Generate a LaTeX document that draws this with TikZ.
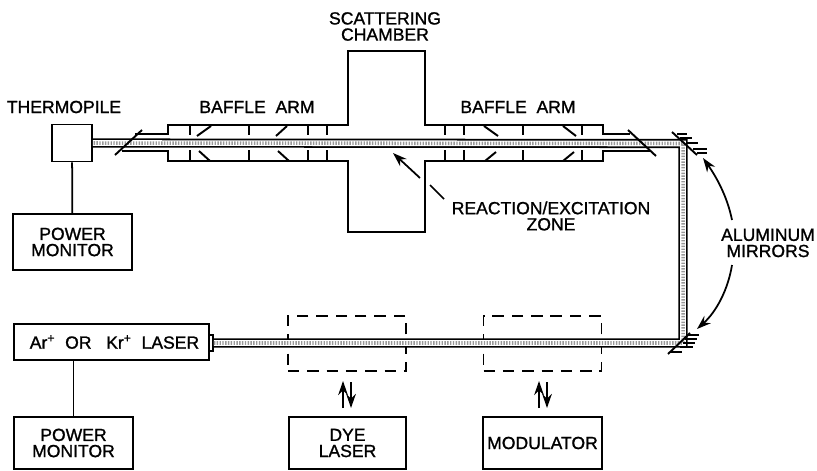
\documentclass[tikz,border=0pt]{standalone}
\usepackage{fontspec}
\setmainfont[AutoFakeBold=1.2]{Liberation Sans}
\usetikzlibrary{arrows.meta}
\tikzset{
  lbl/.style={font=\fontsize{10}{9.2}\selectfont\bfseries,align=center,inner sep=0pt},
  box/.style={draw,line width=1pt,lbl},
  gatebox/.style={draw,line width=1pt,dash pattern=on 6.5pt off 4.5pt,minimum width=2.36cm,minimum height=1.1cm,inner sep=0pt},
  beam/.style={line width=1pt,line join=miter,double=white,double distance=3.2pt,
    postaction={draw=black!40,double=none,line width=2pt,dash pattern=on 0.8pt off 0.8pt}},
  wall/.style={line width=1.1pt,line join=miter},
  ptr/.style={-{Stealth[length=8pt,width=5.5pt]},line width=1pt}
}
\begin{document}
\begin{tikzpicture}[x=0.02cm,y=-0.02cm]
  \useasboundingbox (0,0) rectangle (817,470);
  \node[box,minimum width=0.80cm,minimum height=0.74cm] (thermo) at (72,143) {};
  \node[lbl] (thermolbl) at (64,107) {THERMOPILE};
  \node[box,minimum width=2.38cm,minimum height=1.12cm] (pmA) at (72.5,242) {POWER\\MONITOR};
  \node[box,minimum width=3.90cm,minimum height=0.72cm] (laser) at (111.5,342) {\hspace{3.4pt}Ar\textsuperscript{+}\ \ OR\ \ \ Kr\textsuperscript{+}\ \ LASER};
  \node[box,minimum width=0.08cm,minimum height=0.32cm] (nub) at (211,343) {};
  \node[box,minimum width=2.38cm,minimum height=1.04cm] (pmB) at (73.5,443) {POWER\\MONITOR};
  \node[box,minimum width=2.34cm,minimum height=1.04cm] (dye) at (347.5,443) {DYE\\LASER};
  \node[box,minimum width=2.38cm,minimum height=1.04cm] (mod) at (542.5,443) {MODULATOR};
  \node[gatebox] (gateA) at (347,343.5) {};
  \node[gatebox] (gateB) at (542.5,343.5) {};
  \node[lbl] (chamberlbl) at (385,26.5) {SCATTERING\\CHAMBER};
  \node[lbl] (armA) at (257,107) {BAFFLE\ \ ARM};
  \node[lbl] (armB) at (518,107) {BAFFLE\ \ ARM};
  \node[lbl] (zone) at (551,216) {REACTION/EXCITATION\\ZONE};
  \node[lbl] (mirrors) at (768,243) {ALUMINUM\\MIRRORS};
  \coordinate (mirrorA) at (683,143.5);
  \coordinate (mirrorB) at (683,343);
  \coordinate (focus) at (393,153);
  \draw[wall] (135,134) -- (168,134) -- (168,125) -- (348,125) -- (348,51) -- (425,51)
    -- (425,125) -- (603,125) -- (603,134) -- (630,134);
  \draw[wall] (122,151) -- (168,151) -- (168,161) -- (348,161) -- (348,232) -- (425,232)
    -- (425,161) -- (603,161) -- (603,151) -- (650,151);
  \draw[beam] (nub.east) -- (mirrorB) -- (mirrorA) -- (thermo.east);
  \foreach \x in {190,249,308,327,445,464,523,582}{
    \draw[wall] (\x,125) -- (\x,135);
    \draw[wall] (\x,150) -- (\x,161);
  }
  \foreach \a/\b/\c/\d in {197/136/211/126,276/136/287/126,199/151/210/161,278/151/289/161,
      484/126/498/136,563/126/576/136,485/161/496/152,563/161/574/152}{
    \draw[wall] (\a,\b) -- (\c,\d);
  }
  \draw[wall] (142,130) -- (115,155);
  \draw[wall] (628,130) -- (656,156);
  \draw[wall] (672,132) -- (697,155);
  \foreach \a/\b/\y in {677/687/134,680/692/138,687/698/143,693/707/149,697/707/153}{
    \draw[line width=1pt] (\a,\y) -- (\b,\y);
  }
  \draw[wall] (668,354) -- (690,333);
  \foreach \a/\b/\y in {688/699/335,685/697/339,683/695/343,680/693/347,670/682/352}{
    \draw[line width=1pt] (\a,\y) -- (\b,\y);
  }
  \draw[line width=1pt] (thermo) -- (pmA);
  \draw[line width=1pt] (laser.south -| pmB.north) -- (pmB.north);
  \draw[ptr] (343,408) -- (343,381);
  \draw[ptr] (351,382) -- (351,408);
  \draw[ptr] (539,408) -- (539,381);
  \draw[ptr] (547,382) -- (547,408);
  \draw[ptr] (420,178) -- (focus);
  \draw[line width=1pt] (430,185) -- (444,199);
  \draw[ptr] (732,220) .. controls (727,195) and (715,175) .. (703,158);
  \draw[ptr] (732,265) .. controls (728,290) and (716,312) .. (697,329);
\end{tikzpicture}
\end{document}
